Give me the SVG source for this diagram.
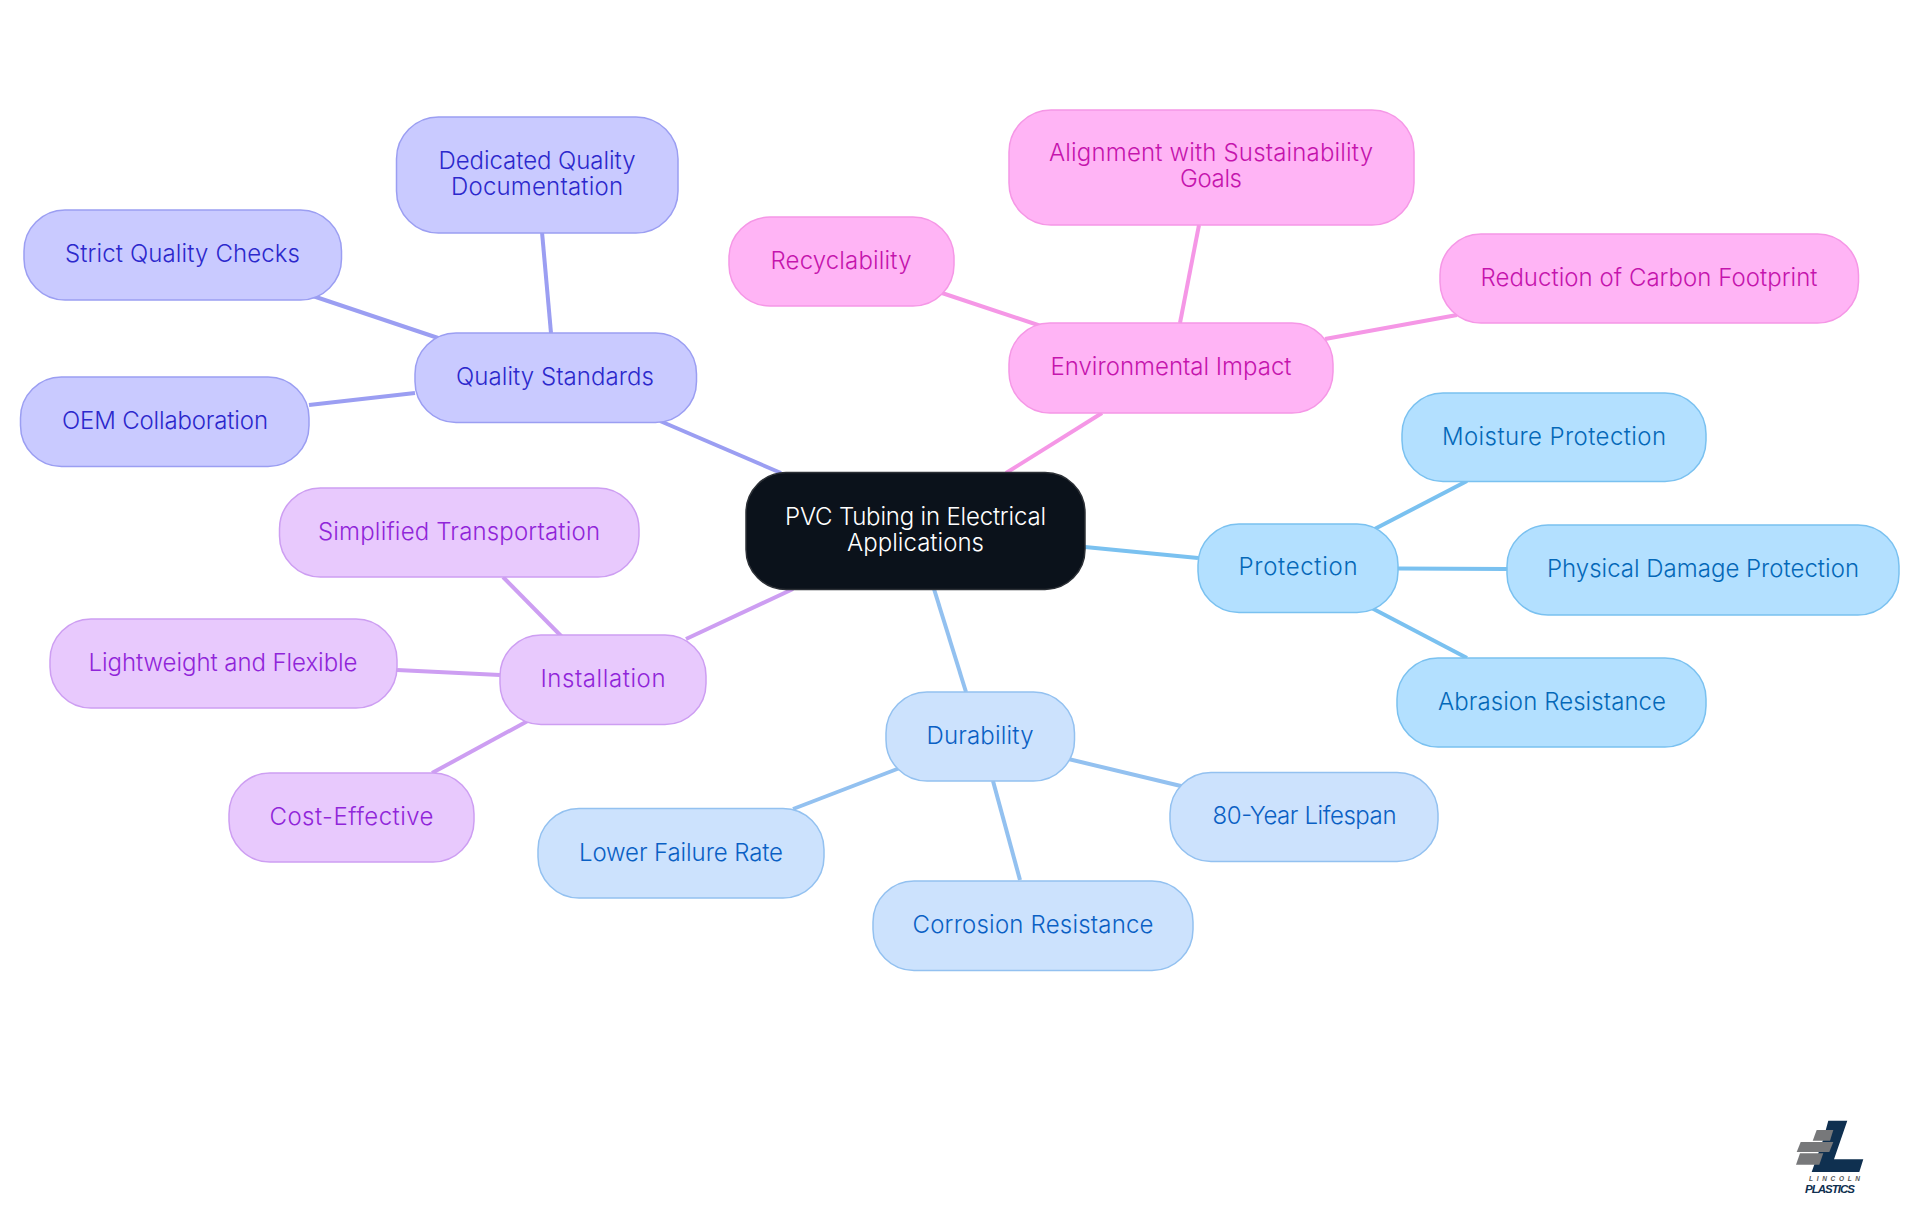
<svg xmlns="http://www.w3.org/2000/svg" width="1920" height="1215" viewBox="0 0 1920 1215">
<style>
text{font-family:"Inter","Noto Sans","Liberation Sans",sans-serif;font-size:24px;font-weight:350;text-anchor:middle}
rect{stroke-width:1.5}
#edges line{stroke-width:4;fill:none}
.c rect{fill:#0b121b;stroke:#2c3036}.c text{fill:#fff}
.a rect{fill:#c9caff;stroke:#9b9ef2}.a text{fill:#2c28cc}.al{stroke:#9b9ef2}
.b rect{fill:#ffb4f5;stroke:#f597e6}.b text{fill:#c514ad}.bl{stroke:#f597e6}
.p rect{fill:#b3e0ff;stroke:#7ac1f0}.p text{fill:#0468b8}.pl{stroke:#7ac1f0}
.d rect{fill:#cce2fd;stroke:#93c1f0}.d text{fill:#0a60c4}.dl{stroke:#93c1f0}
.e rect{fill:#e8c9fd;stroke:#cd9ef2}.e text{fill:#9025d9}.el{stroke:#cd9ef2}
</style>
<rect width="1920" height="1215" fill="#fff" stroke="none"/>
<g id="edges">
<line class="al" x1="660" y1="421" x2="781" y2="473"/>
<line class="bl" x1="1102" y1="413" x2="1006" y2="473"/>
<line class="pl" x1="1085" y1="547" x2="1198" y2="558"/>
<line class="dl" x1="934" y1="589" x2="966" y2="692"/>
<line class="el" x1="793" y1="589" x2="686" y2="639"/>
<line class="al" x1="542" y1="232" x2="551" y2="333"/>
<line class="al" x1="295" y1="290" x2="450" y2="342"/>
<line class="al" x1="309" y1="405" x2="415" y2="393"/>
<line class="bl" x1="1199" y1="225" x2="1180" y2="323"/>
<line class="bl" x1="930" y1="289" x2="1050" y2="329"/>
<line class="bl" x1="1325" y1="339" x2="1457" y2="315"/>
<line class="pl" x1="1365" y1="534" x2="1467" y2="481"/>
<line class="pl" x1="1398" y1="568.500" x2="1507" y2="569"/>
<line class="pl" x1="1364" y1="604" x2="1467" y2="658"/>
<line class="dl" x1="1060" y1="757" x2="1185" y2="787"/>
<line class="dl" x1="993" y1="781" x2="1020" y2="880"/>
<line class="dl" x1="905" y1="766" x2="793" y2="809"/>
<line class="el" x1="503" y1="577" x2="570" y2="645"/>
<line class="el" x1="397" y1="670" x2="500" y2="675"/>
<line class="el" x1="535" y1="717" x2="432" y2="773"/>
</g>
<g id="center" class="c"><rect x="746" y="472.500" width="339" height="117" rx="40"/><text x="915.500" y="525" textLength="261">PVC Tubing in Electrical</text><text x="915.500" y="551" textLength="137">Applications</text></g>
<g id="quality" class="a"><rect x="415" y="333" width="281.500" height="89.500" rx="41"/><text x="555" y="385" textLength="198">Quality Standards</text></g>
<g id="dedicated" class="a"><rect x="396.500" y="117" width="281.500" height="116" rx="42"/><text x="537" y="169" textLength="197">Dedicated Quality</text><text x="537" y="195" textLength="172">Documentation</text></g>
<g id="strict" class="a"><rect x="24" y="210" width="317.500" height="90" rx="41"/><text x="182.500" y="262" textLength="235">Strict Quality Checks</text></g>
<g id="oem" class="a"><rect x="20.500" y="377" width="288.500" height="89.500" rx="41"/><text x="165" y="429" textLength="206">OEM Collaboration</text></g>
<g id="environmental" class="b"><rect x="1009" y="323" width="324" height="90" rx="41"/><text x="1171" y="375" textLength="241">Environmental Impact</text></g>
<g id="alignment" class="b"><rect x="1009" y="110" width="405" height="115" rx="42"/><text x="1211" y="161" textLength="324">Alignment with Sustainability</text><text x="1211" y="187" textLength="62">Goals</text></g>
<g id="recyclability" class="b"><rect x="729" y="217" width="225" height="89" rx="41"/><text x="841" y="269" textLength="141">Recyclability</text></g>
<g id="reduction" class="b"><rect x="1440" y="234" width="418.500" height="89" rx="41"/><text x="1649" y="286" textLength="337">Reduction of Carbon Footprint</text></g>
<g id="protection" class="p"><rect x="1198" y="524" width="200" height="88.500" rx="41"/><text x="1298" y="575" textLength="119">Protection</text></g>
<g id="moisture" class="p"><rect x="1402" y="393" width="304" height="88.500" rx="41"/><text x="1554" y="445" textLength="224">Moisture Protection</text></g>
<g id="physical" class="p"><rect x="1507" y="525" width="392" height="90" rx="41"/><text x="1703" y="577" textLength="312">Physical Damage Protection</text></g>
<g id="abrasion" class="p"><rect x="1397" y="658" width="309" height="89" rx="41"/><text x="1552" y="710" textLength="228">Abrasion Resistance</text></g>
<g id="durability" class="d"><rect x="886" y="692" width="188.500" height="89" rx="41"/><text x="980" y="744" textLength="107">Durability</text></g>
<g id="lifespan" class="d"><rect x="1170" y="772.500" width="268" height="89" rx="41"/><text x="1304.500" y="824" textLength="184">80-Year Lifespan</text></g>
<g id="corrosion" class="d"><rect x="873" y="881" width="320" height="89.500" rx="41"/><text x="1033" y="933" textLength="241">Corrosion Resistance</text></g>
<g id="lower" class="d"><rect x="538" y="808.500" width="286" height="89.500" rx="41"/><text x="681" y="861" textLength="204">Lower Failure Rate</text></g>
<g id="installation" class="e"><rect x="500" y="635" width="206" height="89.500" rx="41"/><text x="603" y="687" textLength="125">Installation</text></g>
<g id="simplified" class="e"><rect x="279.500" y="488" width="359.500" height="89" rx="41"/><text x="459" y="540" textLength="282">Simplified Transportation</text></g>
<g id="lightweight" class="e"><rect x="50" y="619" width="347" height="89" rx="41"/><text x="223" y="671" textLength="269">Lightweight and Flexible</text></g>
<g id="cost" class="e"><rect x="229" y="773" width="245" height="89" rx="41"/><text x="351.500" y="825" textLength="164">Cost-Effective</text></g>
<g id="logo">
<polygon points="1828.300,1120.700 1847.300,1120.700 1834,1159.300 1863.300,1159.300 1859.300,1172 1811.700,1172 1823,1140" fill="#0f3050"/>
<polygon points="1816.700,1130 1833.300,1130 1830,1140.700 1812.700,1140.700" fill="#77787a"/>
<polygon points="1800.700,1142 1833.300,1142 1829.300,1152 1796.700,1152" fill="#77787a"/>
<polygon points="1800,1153.300 1823.300,1153.300 1819.300,1164.700 1796,1164.700" fill="#77787a"/>
<text x="1834.500" y="1181" textLength="51" style="font:italic 700 6.500px 'Liberation Sans',sans-serif;fill:#555">LINCOLN</text>
<text x="1830" y="1193" textLength="50" style="font:italic 700 11.500px 'Liberation Sans',sans-serif;fill:#0f3050">PLASTICS</text>
</g>
</svg>
